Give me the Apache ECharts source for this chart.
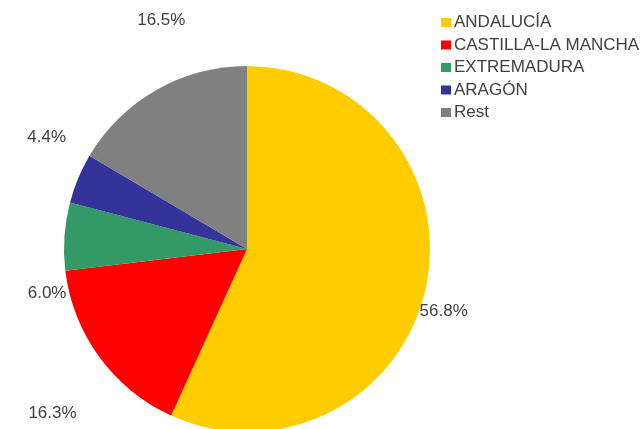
<!DOCTYPE html>
<html>
<head>
<meta charset="utf-8">
<script src="https://cdn.jsdelivr.net/npm/echarts@6/dist/echarts.min.js"></script>
<style>html,body{margin:0;padding:0;background:#fff;}#c{width:642px;height:429px;}</style>
</head>
<body>
<div id="c"></div>
<script>
var categories = ['ANDALUCÍA', 'CASTILLA-LA MANCHA', 'EXTREMADURA', 'ARAGÓN', 'Rest'];
var shares = [56.8, 16.3, 6.0, 4.4, 16.5];
var colors = ['#FFCC00', '#FF0000', '#339966', '#333399', '#808080'];

// styling: nudges applied to the library's outside label placement (Excel-like spots)
var labelNudges = [[-23, 21], [-8, 49], [19, 58], [4, -36], [40, -59]];

var chart = echarts.init(document.getElementById('c'), null, {renderer: 'canvas'});
chart.setOption({
  animation: false,
  backgroundColor: '#ffffff',
  color: colors,
  legend: {
    orient: 'vertical',
    left: 436,
    top: 9,
    itemWidth: 10,
    itemHeight: 9,
    itemGap: 5.5,
    icon: 'rect',
    textStyle: {fontFamily: 'Liberation Sans, Arial, sans-serif', fontSize: 17, color: '#404040', padding: [0, 0, 0, -2]},
    data: categories
  },
  series: [{
    type: 'pie',
    center: [247, 249],
    radius: 183,
    startAngle: 90,
    clockwise: true,
    avoidLabelOverlap: false,
    label: {
      show: true,
      position: 'outside',
      formatter: function (p) { return p.value.toFixed(1) + '%'; },
      fontFamily: 'Liberation Sans, Arial, sans-serif',
      fontSize: 17,
      color: '#404040'
    },
    labelLine: {show: false, length: 12, length2: 0},
    labelLayout: function (p) {
      var n = labelNudges[p.dataIndex];
      return {dx: n[0], dy: n[1]};
    },
    itemStyle: {borderWidth: 0},
    emphasis: {disabled: true},
    data: categories.map(function (c, i) { return {name: c, value: shares[i]}; })
  }]
});
</script>
</body>
</html>
